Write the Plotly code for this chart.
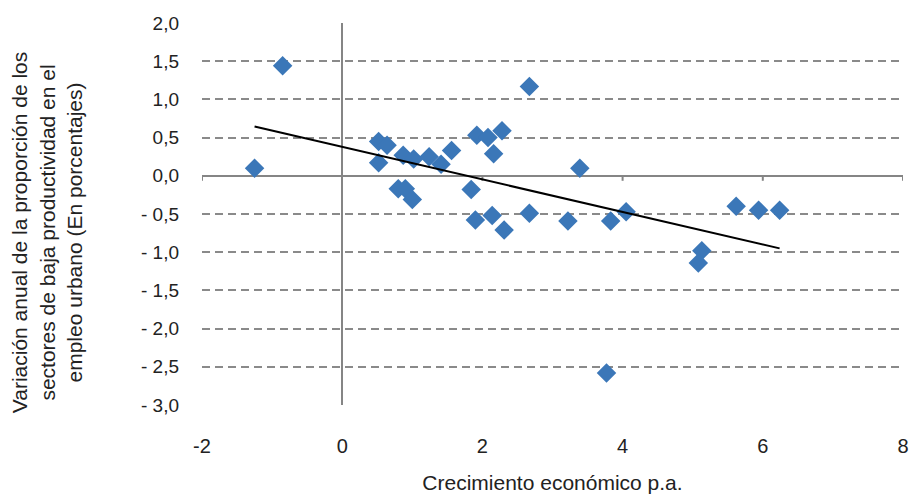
import numpy as np
import plotly.graph_objects as go

# Annual GDP growth (x) vs. change in share of low-productivity sectors (y)
growth = [-1.25, -0.85, 0.52, 0.64, 0.52, 0.87, 1.02, 1.24, 1.41, 1.56,
          0.80, 0.90, 1.00, 1.84, 1.90, 1.92, 2.08, 2.28, 2.16, 2.67,
          3.39, 2.14, 2.31, 2.67, 3.22, 3.83, 4.05, 5.13, 5.08, 5.62,
          5.94, 6.24, 3.77]
share_change = [0.10, 1.44, 0.45, 0.40, 0.17, 0.27, 0.22, 0.25, 0.15, 0.33,
                -0.17, -0.17, -0.31, -0.18, -0.58, 0.53, 0.50, 0.59, 0.29, 1.17,
                0.10, -0.52, -0.71, -0.49, -0.59, -0.59, -0.47, -0.98, -1.14, -0.40,
                -0.45, -0.45, -2.58]

x_ticks = [-2, 0, 2, 4, 6, 8]
y_ticks = [2.0, 1.5, 1.0, 0.5, 0.0, -0.5, -1.0, -1.5, -2.0, -2.5, -3.0]
y_tick_text = ["2,0", "1,5", "1,0", "0,5", "0,0", "- 0,5", "- 1,0", "- 1,5",
               "- 2,0", "- 2,5", "- 3,0"]

x_title = "Crecimiento económico p.a."
y_title = ("Variación anual de la proporción de los<br>"
           "sectores de baja productividad en el<br>"
           "empleo urbano (En porcentajes)")

FONT = "Liberation Sans, Arial, sans-serif"
TEXT = "#222222"
GRID = "#8a8a8a"
AXIS = "#858585"

# Linear trend fitted to the points
slope, intercept = np.polyfit(growth, share_change, 1)
fit_x = np.array([min(growth), max(growth)])
fit_y = slope * fit_x + intercept

fig = go.Figure()
fig.add_trace(go.Scatter(
    x=growth, y=share_change, mode="markers",
    marker=dict(symbol="diamond", size=15, color="#3b77b8", line=dict(width=0)),
    hoverinfo="x+y", showlegend=False,
))
fig.add_trace(go.Scatter(
    x=fit_x, y=fit_y, mode="lines",
    line=dict(color="black", width=2),
    hoverinfo="skip", showlegend=False,
))

# Small tick marks hanging from the horizontal zero line
for xv in x_ticks:
    if xv == 0:
        continue
    fig.add_shape(type="line", xref="x", yref="y", x0=xv, x1=xv,
                  ysizemode="pixel", yanchor=0, y0=0, y1=-5,
                  line=dict(color=AXIS, width=2), layer="below")

fig.update_layout(
    width=917, height=499,
    margin=dict(l=202, r=8, t=23, b=92),
    paper_bgcolor="white", plot_bgcolor="white",
    font=dict(family=FONT, color=TEXT, size=19),
    xaxis=dict(
        range=[-2, 8], tickvals=x_ticks, ticktext=[str(v) for v in x_ticks],
        showgrid=False, zeroline=True, zerolinecolor=AXIS, zerolinewidth=2,
        showline=False, ticks="", ticklabelstandoff=27,
        tickfont=dict(size=20, family=FONT, color=TEXT),
        title=dict(text=x_title, font=dict(size=21, family=FONT, color=TEXT), standoff=19),
        fixedrange=True,
    ),
    yaxis=dict(
        range=[-3, 2], tickvals=y_ticks, ticktext=y_tick_text,
        showgrid=True, gridcolor=GRID, gridwidth=1.7, griddash="8px,5px",
        zeroline=True, zerolinecolor=AXIS, zerolinewidth=2,
        showline=False, ticks="", ticklabelstandoff=22,
        tickfont=dict(size=19, family=FONT, color=TEXT),
        fixedrange=True,
    ),
    annotations=[dict(
        text=y_title, textangle=-90, showarrow=False,
        xref="paper", yref="paper", x=(46 - 202) / 707, y=(407 - 233) / 384,
        xanchor="center", yanchor="middle", align="center",
        font=dict(size=21, family=FONT, color=TEXT),
    )],
)

fig.write_html("out.html")
